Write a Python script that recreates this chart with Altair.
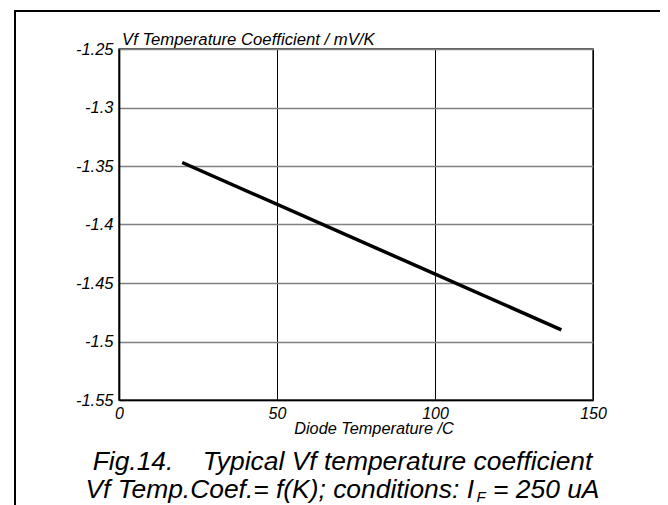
import altair as alt
import pandas as pd

# ---- data ----
temp_c = [20, 140]
coef_mv_k = [-1.347, -1.49]
x_ticks = [0, 50, 100, 150]
y_ticks = [-1.55, -1.5, -1.45, -1.4, -1.35, -1.3, -1.25]
x_domain = [0, 150]
y_domain = [-1.55, -1.25]

NB = "\u00a0"
y_title = "Vf Temperature Coefficient / mV/K"
x_title = "Diode Temperature /C"
caption1 = "Fig.14." + NB * 4 + "Typical Vf temperature coefficient"
caption2a = "Vf Temp.Coef.= f(K); conditions: I"
caption2sub = "F"
caption2b = "= 250 uA"

FONT = "Liberation Sans"
W, H = 474, 351
PAD = {"left": 111, "top": 41, "right": 67, "bottom": 105}

# Arial advance widths (per 1000 em) for laying out the subscript line
ARIAL = {
    " ": 278, NB: 278, ".": 278, "=": 584, "(": 333, ")": 333, ";": 278, ":": 278, "/": 278,
    "0": 556, "1": 556, "2": 556, "5": 556, "4": 556,
    "A": 667, "C": 722, "F": 611, "I": 278, "K": 667, "T": 611, "V": 667,
    "c": 500, "d": 556, "e": 556, "f": 278, "i": 222, "m": 833, "n": 556,
    "o": 556, "p": 556, "s": 500, "t": 278, "u": 556,
}


def text_width(s, size):
    return sum(ARIAL.get(ch, 556) for ch in s) * size / 1000.0


df = pd.DataFrame({"t": temp_c, "c": coef_mv_k})

x_enc = alt.X(
    "t:Q",
    scale=alt.Scale(domain=x_domain, nice=False),
    axis=alt.Axis(
        values=x_ticks, title=None, ticks=False, grid=True,
        gridColor="#000000", gridWidth=1, domainColor="#000000", domainWidth=1.7,
        labelFont=FONT, labelFontSize=16, labelFontStyle="italic",
        labelColor="#000000", labelPadding=5, labelFlush=False, format="d",
    ),
)
y_enc = alt.Y(
    "c:Q",
    scale=alt.Scale(domain=y_domain, nice=False, zero=False),
    axis=alt.Axis(
        values=y_ticks, title=None, ticks=False, grid=True,
        gridColor="#808080", gridWidth=1.5, domainColor="#000000", domainWidth=1.7,
        labelFont=FONT, labelFontSize=16.5, labelFontStyle="italic",
        labelColor="#000000", labelPadding=6, labelFlush=False,
        labelExpr="replace(format(datum.value, '.2~f'), '\u2212', '-')",
    ),
)

line = alt.Chart(df).mark_line(color="black", strokeWidth=3.5).encode(x=x_enc, y=y_enc)


def txt(s, x, y, size, align="left"):
    return alt.Chart(pd.DataFrame({"s": [s]})).mark_text(
        font=FONT, fontSize=size, fontStyle="italic", color="black",
        align=align, baseline="alphabetic",
    ).encode(x=alt.value(x), y=alt.value(y), text="s:N")


def rule(x, y, x2=None, y2=None):
    enc = {"x": alt.value(x), "y": alt.value(y)}
    if x2 is not None:
        enc["x2"] = alt.value(x2)
    if y2 is not None:
        enc["y2"] = alt.value(y2)
    return alt.Chart(pd.DataFrame({"k": [0]})).mark_rule(
        color="black", strokeWidth=2, strokeCap="square"
    ).encode(**enc)


ox, oy = 119, 49  # plot origin on the page
cap_size = 26.4
sub_size = 15
center2 = 342.5
wa = text_width(caption2a, cap_size)
wf = text_width(caption2sub, sub_size)
wsp = text_width(" ", cap_size)
wb = text_width(caption2b, cap_size)
start2 = center2 - (wa + wf + wsp + wb) / 2.0

layers = [
    line,
    txt(y_title, 122 - ox, 44.5 - oy, 16.7),
    txt(x_title, 374 - ox, 434 - oy, 16.3, align="center"),
    txt(caption1, 342.5 - ox, 469.5 - oy, cap_size, align="center"),
    txt(caption2a, start2 - ox, 498 - oy, cap_size),
    txt(caption2sub, start2 + wa - ox, 502 - oy, sub_size),
    txt(caption2b, start2 + wa + wf + wsp - ox, 498 - oy, cap_size),
    rule(15 - ox, 11 - oy, x2=665.5 - ox),
    rule(15 - ox, 11 - oy, y2=520 - oy),
    rule(665.5 - ox, 11 - oy, y2=520 - oy),
]

chart = alt.layer(*layers).properties(
    width=W, height=H, padding=PAD, autosize=alt.AutoSizeParams(type="none"),
    background="white",
).configure_view(stroke="#222222", strokeWidth=1.5)

chart.save("out.html", embed_options={"renderer": "svg", "actions": False})
